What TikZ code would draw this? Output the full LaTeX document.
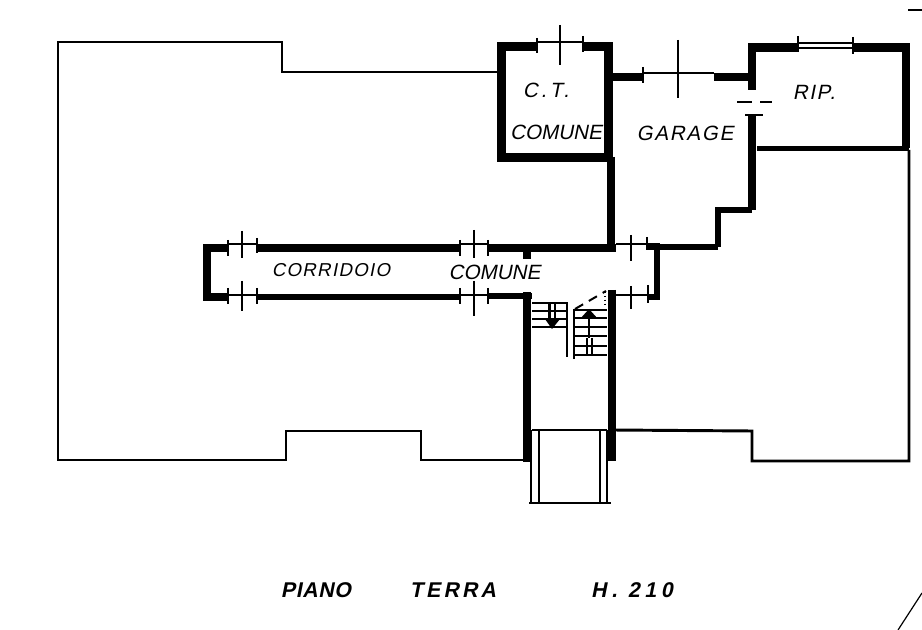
\documentclass[tikz,border=0pt]{standalone}
\usepackage{fontspec}
\newfontfamily\planfont[FakeSlant=0.2]{Liberation Sans}
\newfontfamily\planbold[FakeSlant=0.2]{Liberation Sans Bold}
\tikzset{
  wall/.style={line width=6.5pt},
  wallmid/.style={line width=3.8pt},
  outline/.style={line width=2.2pt,line join=miter},
  hair/.style={line width=0.9pt},
  room/.style={font=\planfont\fontsize{15.5}{16}\selectfont,inner sep=0pt},
  roomsmall/.style={font=\planfont\fontsize{14}{15}\selectfont,inner sep=0pt},
  title/.style={font=\planbold\fontsize{16}{17}\selectfont,inner sep=0pt}
}
\begin{document}
\begin{tikzpicture}[x=0.75pt,y=-0.75pt]
  \useasboundingbox (0,0) rectangle (922,630);
  % outer outline
  \draw[outline] (497,72) -- (282,72) -- (282,42) -- (58,42) -- (58,460) -- (286,460) -- (286,431) -- (421,431) -- (421,460) -- (525,460);
  \draw[outline] (612,430) -- (752,431) -- (752,461) -- (909,461) -- (909,150);
  % C.T.
  \draw[wall] (537,46.5) -- (501.5,46.5) -- (501.5,157.5) -- (608.5,157.5);
  \draw[wall] (583,46.5) -- (608.5,46.5) -- (608.5,157);
  \draw[wall] (611,157) -- (611,252);
  \draw[hair] (537,42) -- (583,42);
  \draw[hair] (537,38) -- (537,53);
  \draw[hair] (583,36) -- (583,52);
  \draw[hair] (560,25) -- (560,65);
  % garage
  \draw[wall] (613,77) -- (643,77);
  \draw[wall] (714,77) -- (752,77);
  \draw[hair] (643,73) -- (714,73);
  \draw[hair] (643,67) -- (643,83);
  \draw[hair] (678,40) -- (678,98);
  \draw[wallmid,line width=4pt] (718,247) -- (718,210) -- (752,210);
  \draw[wallmid,line width=4pt] (718,247) -- (647,247);
  \draw[wall] (752,115) -- (752,210);
  \draw[hair,line width=1.6pt] (745,115) -- (763,115);
  % RIP.
  \draw[wall] (752,90) -- (752,47.5) -- (798,47.5);
  \draw[wall] (853,47.5) -- (906,47.5) -- (906,148);
  \draw[wallmid] (757,148.5) -- (909,148.5);
  \draw[hair] (798,43) -- (853,43);
  \draw[hair] (798,48) -- (853,48);
  \draw[hair] (798,36) -- (798,52);
  \draw[hair] (853,37) -- (853,54);
  \draw[hair] (737,102) -- (752,102);
  \draw[hair] (760,102) -- (772,102);
  % corridor
  \draw[wall] (228,248) -- (207,248) -- (207,297) -- (228,297);
  \draw[wall] (257,248) -- (460,248);
  \draw[wall] (488,248) -- (616,248);
  \draw[wallmid] (257,297) -- (460,297);
  \draw[wallmid] (488,296) -- (532,296);
  \draw[wall] (527,252) -- (527,259);
  \draw[hair] (228,244) -- (257,244);
  \draw[hair] (228,295) -- (257,295);
  \draw[hair] (460,244) -- (488,244);
  \draw[hair] (460,295) -- (488,295);
  \foreach \x/\ya/\yb in {228/240/256,257/238/253,460/240/256,488/240/256,228/288/304,257/288/304,460/288/304,488/288/304}
    \draw[hair] (\x,\ya) -- (\x,\yb);
  \foreach \x/\ya/\yb in {242/231/258,474/230/258,242/281/311,474/281/316}
    \draw[hair] (\x,\ya) -- (\x,\yb);
  % corridor end
  \draw[wallmid] (647,246) -- (657,246) -- (657,297) -- (648,297);
  \draw[hair] (616,244) -- (647,244);
  \draw[hair] (616,295) -- (648,295);
  \draw[hair] (631,235) -- (631,261);
  \draw[hair] (647,237) -- (647,250);
  \draw[hair] (631,286) -- (631,309);
  \draw[hair] (648,285) -- (648,303);
  % stair walls
  \draw[wall] (527,292) -- (527,462);
  \draw[wall] (612,290) -- (612,461);
  % stairs
  \foreach \y in {303,311,319,327}
    \draw[hair] (532,\y) -- (568,\y);
  \foreach \y in {310,318,327,336,346,355}
    \draw[hair] (574,\y) -- (607,\y);
  \draw[hair] (567,303) -- (567,357);
  \draw[hair] (574,309) -- (574,359);
  \draw[wallmid,line width=1.6pt] (549.5,303) -- (549.5,322);
  \draw[wallmid,line width=1.6pt] (555,303) -- (555,322);
  \fill (545,319) -- (560,319) -- (552,329) -- cycle;
  \draw[hair] (589,319) -- (589,338);
  \draw[hair] (587,338) -- (587,355);
  \draw[hair] (592,338) -- (592,355);
  \fill (580,319) -- (598,319) -- (589,309) -- cycle;
  \draw[hair,line width=1.5pt,dashed,dash pattern=on 7pt off 5pt] (575,309) -- (606,291);
  \draw[hair,dotted] (605,292) -- (605,306);
  % entrance
  \draw[hair,line width=1.2pt] (532,430) -- (607,430);
  \draw[hair] (531,430) -- (531,503);
  \draw[hair] (539,430) -- (539,503);
  \draw[hair] (600,430) -- (600,503);
  \draw[hair] (607,430) -- (607,503);
  \draw[hair,line width=1.2pt] (529,503) -- (611,503);
  % sheet marks
  \draw[wallmid,line width=2.2pt] (908,10) -- (922,10);
  \draw[hair] (898,630) -- (922,593);
  % labels
  \node[room] (ct) at (546,90) {\addfontfeature{LetterSpace=15}C.T.};
  \node[room] (comuneA) at (556,132) {COMUNE};
  \node[room] (garage) at (685,133) {\addfontfeature{LetterSpace=8}GARAGE};
  \node[room] (rip) at (814,92) {\addfontfeature{LetterSpace=8}RIP.};
  \node[roomsmall] (corridoio) at (331,270) {\addfontfeature{LetterSpace=7}CORRIDOIO};
  \node[room] (comuneB) at (494.5,272) {COMUNE};
  \node[title] (piano) at (316,590) {\addfontfeature{LetterSpace=3}PIANO};
  \node[title] (terra) at (453,590) {\addfontfeature{LetterSpace=15}TERRA};
  \node[title] (quota) at (632,590) {\addfontfeature{LetterSpace=22}H. 210};
\end{tikzpicture}
\end{document}
